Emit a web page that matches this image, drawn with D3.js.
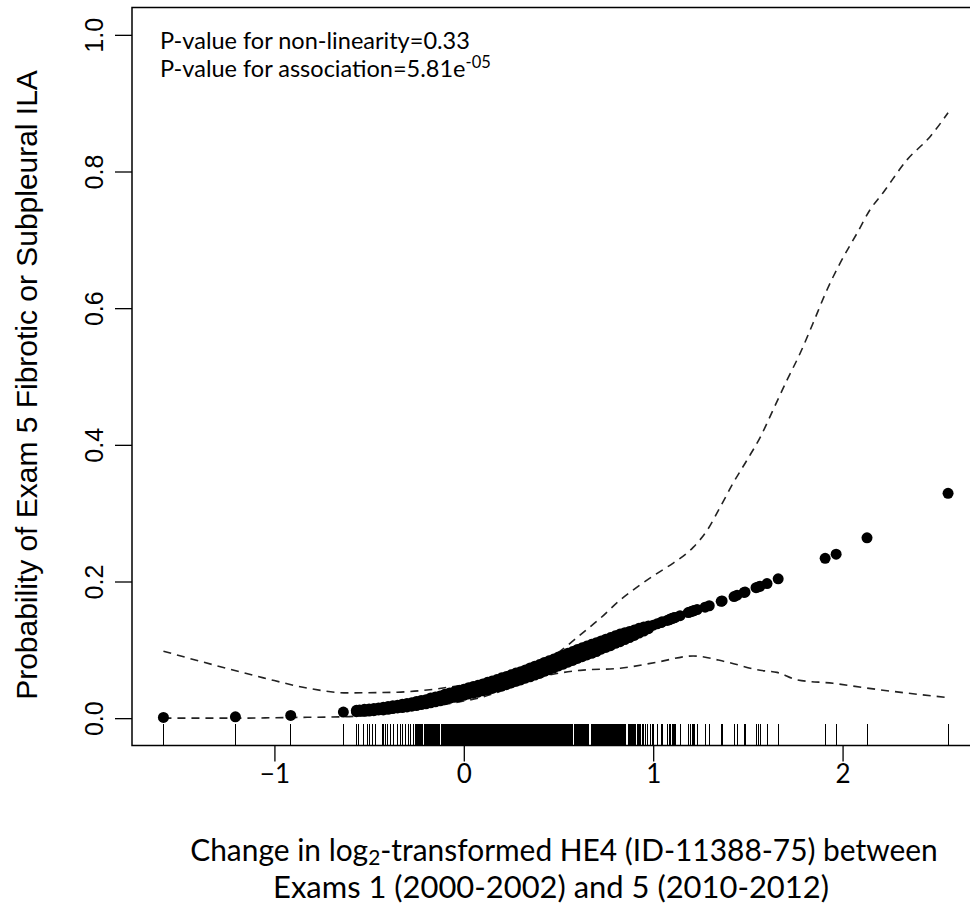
<!DOCTYPE html>
<html>
<head>
<meta charset="utf-8">
<script src="https://cdn.jsdelivr.net/npm/d3@7"></script>
<style>
  body { margin: 0; background: #fff; }
  svg { display: block; }
</style>
</head>
<body>
<svg id="chart" width="970" height="908"></svg>
<script>
// Axis ticks
const xTicks = [-1, 0, 1, 2];
const yTicks = [0, 0.2, 0.4, 0.6, 0.8, 1.0];

// Fitted probabilities: dense band (lower / upper edge of the fitted values at each change value)
const fitX  = [-0.567,-0.55,-0.525,-0.5,-0.475,-0.45,-0.425,-0.4,-0.375,-0.35,-0.325,-0.3,-0.275,-0.25,-0.225,-0.2,-0.175,-0.15,-0.125,-0.1,-0.075,-0.05,-0.025,0,0.025,0.05,0.075,0.1,0.125,0.15,0.175,0.2,0.225,0.25,0.275,0.3,0.325,0.35,0.375,0.4,0.425,0.45,0.475,0.5,0.525,0.55,0.575,0.6,0.625,0.65,0.675,0.7,0.725,0.75,0.775,0.8,0.825,0.85,0.875,0.9,0.925,0.95,0.975];
const fitLo = [0.0095,0.010,0.010,0.0105,0.011,0.012,0.012,0.013,0.014,0.015,0.0155,0.0165,0.0175,0.0185,0.020,0.021,0.0225,0.024,0.0255,0.027,0.029,0.0305,0.0315,0.0335,0.0355,0.0365,0.038,0.040,0.0415,0.0435,0.0455,0.047,0.049,0.0515,0.054,0.056,0.0585,0.0605,0.063,0.0655,0.0685,0.071,0.0735,0.0765,0.079,0.082,0.0845,0.0875,0.090,0.0925,0.095,0.0975,0.101,0.1035,0.106,0.1095,0.112,0.115,0.118,0.121,0.1245,0.1275,0.131];
const fitHi = [0.0115,0.012,0.013,0.0135,0.014,0.015,0.016,0.017,0.018,0.019,0.0205,0.0215,0.0225,0.0245,0.026,0.027,0.0295,0.031,0.0325,0.035,0.037,0.0385,0.0405,0.0425,0.0445,0.0465,0.048,0.050,0.0525,0.0545,0.0565,0.059,0.061,0.0635,0.066,0.068,0.0705,0.0735,0.076,0.0785,0.0815,0.084,0.0865,0.0895,0.092,0.095,0.0975,0.1005,0.103,0.1055,0.108,0.1105,0.113,0.1155,0.118,0.1205,0.123,0.125,0.127,0.129,0.1315,0.1335,0.135];

// Fitted probabilities: isolated observations
const pointX = [-1.586,-1.206,-0.914,-0.636,1.000,1.021,1.042,1.047,1.074,1.084,1.090,1.100,1.105,1.111,1.116,1.142,1.185,1.195,1.206,1.211,1.216,1.232,1.274,1.296,1.359,1.364,1.427,1.443,1.480,1.485,1.543,1.554,1.564,1.601,1.660,1.908,1.966,2.129,2.557];
const pointY = [0.001,0.002,0.004,0.009,0.136,0.138,0.140,0.141,0.143,0.144,0.145,0.146,0.1465,0.147,0.1475,0.150,0.1545,0.1555,0.1565,0.157,0.1575,0.159,0.1625,0.1645,0.171,0.1715,0.178,0.180,0.184,0.1845,0.191,0.192,0.193,0.197,0.204,0.234,0.240,0.264,0.329];

// 95% confidence limits
const upperX = [-1.586,-1.322,-1.058,-0.826,-0.615,-0.351,-0.087,0.177,0.404,0.509,0.615,0.720,0.826,0.931,1.021,1.106,1.211,1.285,1.354,1.422,1.496,1.565,1.633,1.707,1.776,1.844,1.918,1.987,2.077,2.145,2.214,2.340,2.462,2.557];
const upperY = [0.098,0.078,0.059,0.044,0.037,0.038,0.045,0.059,0.080,0.098,0.122,0.146,0.173,0.195,0.212,0.227,0.250,0.275,0.309,0.344,0.378,0.411,0.451,0.495,0.534,0.578,0.627,0.666,0.710,0.744,0.769,0.817,0.851,0.886];
const lowerX = [-1.586,-1.206,-0.914,-0.636,-0.44,-0.2,0,0.087,0.2,0.404,0.615,0.826,1.021,1.211,1.390,1.565,1.654,1.760,1.950,2.129,2.557];
const lowerY = [0.000,0.000,0.001,0.002,0.006,0.016,0.025,0.030,0.040,0.060,0.070,0.073,0.082,0.091,0.082,0.070,0.067,0.056,0.051,0.044,0.030];

// Observed change values (rug)
const rugX = [-1.586,-1.206,-0.914,-0.636,
  -0.567,-0.557,-0.530,-0.509,-0.499,-0.483,-0.467,-0.430,-0.425,-0.414,-0.404,-0.388,-0.372,-0.351,-0.335,-0.325,-0.309,-0.293,-0.282,-0.266,
  -0.256,-0.250,-0.246,-0.239,-0.233,-0.228,-0.221,-0.216,-0.210,-0.203,-0.199,-0.192,-0.187,-0.181,-0.176,-0.170,-0.164,-0.159,-0.153,-0.148,-0.142,-0.137,-0.131,-0.126,-0.120,-0.115,-0.109,-0.104,-0.099,-0.093,-0.088,-0.083,-0.077,-0.072,-0.067,-0.061,-0.056,-0.051,-0.046,-0.040,-0.035,-0.030,-0.025,-0.019,-0.014,-0.009,-0.004,
  0.001,0.006,0.011,0.016,0.021,0.026,0.031,0.036,0.041,0.046,0.051,0.056,0.061,0.066,0.071,0.076,0.081,0.086,0.091,0.096,0.101,0.106,0.111,0.116,0.121,0.126,0.131,0.136,0.141,0.146,0.151,0.156,0.161,0.166,0.171,0.176,0.181,0.186,0.191,0.196,
  0.201,0.206,0.211,0.216,0.221,0.226,0.231,0.236,0.241,0.246,0.251,0.256,0.261,0.266,0.271,0.276,0.281,0.286,0.291,0.296,0.301,0.306,0.311,0.316,0.321,0.326,0.331,0.336,0.341,0.346,0.351,0.356,0.361,0.366,0.371,0.376,0.381,0.386,0.391,0.396,
  0.401,0.406,0.411,0.416,0.421,0.426,0.431,0.436,0.441,0.446,0.451,0.456,0.461,0.466,0.471,0.476,0.481,0.486,0.491,0.496,0.501,0.506,0.511,0.516,0.521,0.526,0.531,0.537,0.542,0.548,0.553,0.559,0.565,0.570,0.576,0.582,0.588,0.594,0.599,
  0.604,0.609,0.614,0.619,0.624,0.629,0.634,0.639,0.644,0.649,0.654,0.659,0.674,0.679,0.684,0.689,0.694,0.699,0.704,0.709,0.714,0.719,0.724,0.729,0.734,0.739,0.744,0.749,0.754,0.759,0.764,0.769,0.774,0.779,0.784,0.789,0.794,0.799,
  0.804,0.809,0.814,0.819,0.824,0.829,0.834,0.839,0.844,0.849,0.854,0.869,0.874,0.879,0.884,0.889,0.894,0.899,0.904,0.909,0.915,0.921,0.927,0.934,0.941,0.949,0.958,0.968,
  0.984,0.995,1.000,1.021,1.042,1.047,1.074,1.084,1.090,1.100,1.105,1.111,1.116,1.142,1.185,1.195,1.206,1.211,1.216,1.232,1.274,1.296,1.359,1.364,1.427,1.443,1.480,1.485,1.543,1.554,1.564,1.601,1.660,1.908,1.966,2.129,2.557];

const svg = d3.select("#chart");

const x = d3.scaleLinear().domain([-1.752, 2.723]).range([132, 979.5]);
const y = d3.scaleLinear().domain([-0.04, 1.04]).range([745.5, 7.5]);

// Confidence limits (dashed)
const line = d3.line().x(d => x(d[0])).y(d => y(d[1])).curve(d3.curveMonotoneX);
[[upperX, upperY], [lowerX, lowerY]].forEach(([xs, ys]) => {
  svg.append("path")
    .datum(xs.map((v, i) => [v, ys[i]]))
    .attr("d", line)
    .attr("fill", "none")
    .attr("stroke", "#222")
    .attr("stroke-width", 1.6)
    .attr("stroke-dasharray", "8,6");
});

// Rug of observed values
svg.append("g").attr("shape-rendering", "crispEdges")
  .selectAll("line").data(rugX).join("line")
  .attr("x1", d => x(d)).attr("x2", d => x(d))
  .attr("y1", y(-0.04)).attr("y2", y(-0.04) - 22)
  .attr("stroke", "#000").attr("stroke-width", 1);

// Fitted probabilities
const R = 5.5;
const dots = svg.append("g").attr("fill", "#000");
fitX.forEach((v, i) => {
  dots.append("circle").attr("cx", x(v)).attr("cy", y(fitLo[i])).attr("r", R);
  dots.append("circle").attr("cx", x(v)).attr("cy", y(fitHi[i])).attr("r", R);
});
dots.selectAll("circle.single").data(pointX).join("circle")
  .attr("class", "single")
  .attr("cx", d => x(d)).attr("cy", (d, i) => y(pointY[i])).attr("r", R);

// Plot frame
svg.append("rect")
  .attr("x", x(-1.752)).attr("y", y(1.04))
  .attr("width", x(2.723) - x(-1.752)).attr("height", y(-0.04) - y(1.04))
  .attr("fill", "none").attr("stroke", "#000").attr("stroke-width", 1.5);

// Y axis
const gy = svg.append("g").attr("transform", `translate(${x(-1.752)},0)`)
  .call(d3.axisLeft(y).tickValues(yTicks).tickSize(17).tickFormat(d3.format(".1f")));
gy.select(".domain").remove();
gy.selectAll(".tick line").attr("stroke", "#000").attr("stroke-width", 1.3);
gy.selectAll(".tick text")
  .attr("x", null).attr("dy", null)
  .attr("transform", "translate(-38,0) rotate(-90)")
  .attr("text-anchor", "middle").attr("dominant-baseline", "central")
  .attr("font-family", "'Liberation Sans', Arial, sans-serif")
  .attr("font-size", 25).attr("fill", "#000");

// X axis
const gx = svg.append("g").attr("transform", `translate(0,${y(-0.04)})`)
  .call(d3.axisBottom(x).tickValues(xTicks).tickSize(16)
    .tickFormat(d => d < 0 ? "\u2212" + Math.abs(d) : String(d)));
gx.select(".domain").remove();
gx.selectAll(".tick line").attr("stroke", "#000").attr("stroke-width", 1.3);
gx.selectAll(".tick text")
  .attr("y", 37).attr("dy", null)
  .attr("font-family", "Lato, 'Open Sans', sans-serif")
  .attr("font-size", 26).attr("fill", "#000");

function fitText(sel, target) {
  const w = sel.node().getComputedTextLength();
  const fs = parseFloat(sel.attr("font-size"));
  sel.attr("font-size", fs * target / w);
}

// Y axis title
const yt = svg.append("text")
  .attr("transform", "translate(37,385) rotate(-90)")
  .attr("text-anchor", "middle")
  .attr("font-family", "'Liberation Sans', Arial, sans-serif")
  .attr("font-size", 22).attr("fill", "#000")
  .text("Probability of Exam 5 Fibrotic or Subpleural ILA");
fitText(yt, 630);

// X axis title
const xt1 = svg.append("text")
  .attr("x", 564).attr("y", 861).attr("text-anchor", "middle")
  .attr("font-family", "Lato, 'Open Sans', sans-serif")
  .attr("font-size", 26).attr("fill", "#000");
xt1.append("tspan").text("Change in log");
xt1.append("tspan").attr("font-size", "0.7em").attr("dy", "0.2em").text("2");
xt1.append("tspan").attr("dy", "-0.14em").text("-transformed HE4 (ID-11388-75) between");
fitText(xt1, 748);

const xt2 = svg.append("text")
  .attr("x", 551).attr("y", 898).attr("text-anchor", "middle")
  .attr("font-family", "Lato, 'Open Sans', sans-serif")
  .attr("font-size", 26).attr("fill", "#000")
  .text("Exams 1 (2000-2002) and 5 (2010-2012)");
fitText(xt2, 556);

// P-value annotations
const a1 = svg.append("text")
  .attr("x", 160).attr("y", 49)
  .attr("font-family", "Lato, 'Open Sans', sans-serif")
  .attr("font-size", 19).attr("fill", "#000")
  .text("P-value for non-linearity=0.33");
fitText(a1, 310);
const a2 = svg.append("text")
  .attr("x", 160).attr("y", 77)
  .attr("font-family", "Lato, 'Open Sans', sans-serif")
  .attr("font-size", a1.attr("font-size")).attr("fill", "#000");
a2.append("tspan").text("P-value for association=5.81e");
a2.append("tspan").attr("font-size", "0.7em").attr("dy", "-0.55em").text("-05");
</script>
</body>
</html>
